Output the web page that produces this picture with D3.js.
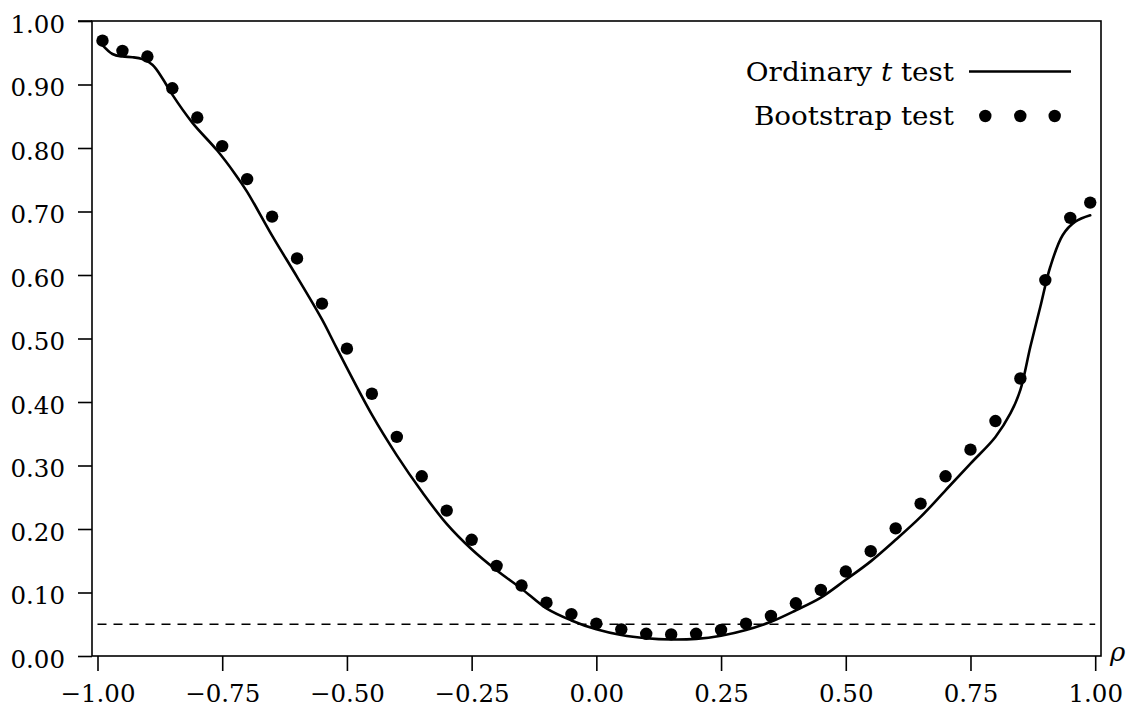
<!DOCTYPE html>
<html>
<head>
<meta charset="utf-8">
<script src="https://cdn.jsdelivr.net/npm/d3@7"></script>
<style>
  html, body { margin: 0; padding: 0; background: #fff; }
  svg { display: block; }
  text { font-family: "DejaVu Serif", "Liberation Serif", serif; fill: #000; }
</style>
</head>
<body>
<svg id="chart" width="1132" height="711"></svg>
<script>
// ---- data ----
const bootRho = [-0.99,-0.95,-0.90,-0.85,-0.80,-0.75,-0.70,-0.65,-0.60,-0.55,-0.50,-0.45,-0.40,-0.35,-0.30,-0.25,-0.20,-0.15,-0.10,-0.05,
                 0.00,0.05,0.10,0.15,0.20,0.25,0.30,0.35,0.40,0.45,0.50,0.55,0.60,0.65,0.70,0.75,0.80,0.85,0.90,0.95,0.99];
const bootPower = [0.969,0.953,0.944,0.894,0.848,0.803,0.751,0.692,0.626,0.555,0.484,0.413,0.345,0.283,0.229,0.183,0.142,0.111,0.084,0.066,
                   0.051,0.042,0.035,0.034,0.035,0.041,0.051,0.063,0.083,0.104,0.133,0.165,0.201,0.240,0.283,0.325,0.370,0.437,0.592,0.690,0.714];
const tRho = [-0.99,-0.97,-0.95,-0.93,-0.91,-0.89,-0.87,-0.85,-0.81,-0.76,-0.725,-0.70,-0.65,-0.60,-0.55,-0.52,-0.45,-0.40,-0.35,-0.30,-0.25,-0.20,-0.15,-0.10,-0.05,
              0.00,0.05,0.10,0.15,0.20,0.25,0.30,0.35,0.40,0.45,0.50,0.55,0.60,0.65,0.70,0.75,0.80,0.83,0.85,0.87,0.89,0.91,0.935,0.96,0.99];
const tPower = [0.962,0.948,0.944,0.943,0.940,0.931,0.910,0.884,0.840,0.796,0.760,0.731,0.662,0.597,0.530,0.484,0.380,0.316,0.259,0.208,0.168,0.135,0.106,0.075,0.056,
                0.042,0.033,0.028,0.026,0.027,0.032,0.041,0.054,0.072,0.092,0.120,0.149,0.183,0.219,0.261,0.303,0.345,0.382,0.419,0.487,0.550,0.613,0.663,0.684,0.694];
const nominalLevel = [0.05];
const xTicks = [-1.00,-0.75,-0.50,-0.25,0.00,0.25,0.50,0.75,1.00];
const yTicks = [0.0,0.1,0.2,0.3,0.4,0.5,0.6,0.7,0.8,0.9,1.0];
const legendLabels = ["Ordinary ", "t", " test", "Bootstrap test"];
const xAxisLabel = "ρ";

// ---- layout ----
const svg = d3.select("#chart");
const frame = {left: 92, right: 1101, top: 21, bottom: 656};
const x = d3.scaleLinear().domain([-1, 1]).range([97.5, 1095.2]);
const y = d3.scaleLinear().domain([0, 1]).range([frame.bottom, frame.top]);
const fmt = d3.format(".2f");

// frame
svg.append("rect")
  .attr("x", frame.left).attr("y", frame.top)
  .attr("width", frame.right - frame.left).attr("height", frame.bottom - frame.top)
  .attr("fill", "none").attr("stroke", "#000").attr("stroke-width", 1.6);

// y axis
const yAxis = svg.append("g")
  .attr("transform", `translate(${frame.left},0)`)
  .call(d3.axisLeft(y).tickValues(yTicks).tickFormat(fmt).tickSize(14).tickPadding(13).tickSizeOuter(0));
yAxis.select(".domain").remove();
yAxis.selectAll(".tick line").attr("stroke", "#000").attr("stroke-width", 1.6);
yAxis.selectAll(".tick text").attr("font-size", 24.5).attr("font-family", "DejaVu Serif").attr("dy", "0.45em");

// x axis
const xAxis = svg.append("g")
  .attr("transform", `translate(0,${frame.bottom})`)
  .call(d3.axisBottom(x).tickValues(xTicks).tickFormat(fmt).tickSize(15).tickPadding(12).tickSizeOuter(0));
xAxis.select(".domain").remove();
xAxis.selectAll(".tick line").attr("stroke", "#000").attr("stroke-width", 1.6);
xAxis.selectAll(".tick text").attr("font-size", 24.5).attr("font-family", "DejaVu Serif").attr("dy", "0.78em");

// extend top frame line left to tick length
svg.append("line").attr("x1", frame.left - 14).attr("x2", frame.left)
  .attr("y1", frame.top).attr("y2", frame.top).attr("stroke", "#000").attr("stroke-width", 1.6);

// rho label
svg.append("text").attr("x", 1110).attr("y", 661)
  .attr("font-size", 26).attr("font-style", "italic").text(xAxisLabel);

// dashed nominal level
svg.selectAll(".nominal").data(nominalLevel).enter().append("line")
  .attr("class", "nominal")
  .attr("x1", x(-1)).attr("x2", x(1))
  .attr("y1", d => y(d)).attr("y2", d => y(d))
  .attr("stroke", "#000").attr("stroke-width", 1.4).attr("stroke-dasharray", "9,7");

// t-test line
const tData = tRho.map((r, i) => [r, tPower[i]]);
svg.append("path").datum(tData)
  .attr("fill", "none").attr("stroke", "#000").attr("stroke-width", 2.6)
  .attr("stroke-linejoin", "round").attr("stroke-linecap", "round")
  .attr("d", d3.line().x(d => x(d[0])).y(d => y(d[1])).curve(d3.curveCatmullRom.alpha(0.5)));

// bootstrap dots
svg.selectAll(".boot").data(bootRho.map((r, i) => [r, bootPower[i]])).enter().append("circle")
  .attr("class", "boot")
  .attr("cx", d => x(d[0])).attr("cy", d => y(d[1])).attr("r", 6.2).attr("fill", "#000");

// legend
const lg = svg.append("g");
const t1 = lg.append("text").attr("transform", "translate(954,80.5) scale(1.07,1)")
  .attr("text-anchor", "end").attr("font-size", 26);
t1.append("tspan").text(legendLabels[0]);
t1.append("tspan").attr("font-style", "italic").text(legendLabels[1]);
t1.append("tspan").text(legendLabels[2]);
lg.append("line").attr("x1", 969).attr("x2", 1071).attr("y1", 71.5).attr("y2", 71.5)
  .attr("stroke", "#000").attr("stroke-width", 2.6);
lg.append("text").attr("transform", "translate(954,125) scale(1.07,1)")
  .attr("text-anchor", "end").attr("font-size", 26).text(legendLabels[3]);
lg.selectAll(".ldot").data([985.3, 1020.3, 1054.7]).enter().append("circle")
  .attr("cx", d => d).attr("cy", 116).attr("r", 6.2).attr("fill", "#000");
</script>
</body>
</html>
